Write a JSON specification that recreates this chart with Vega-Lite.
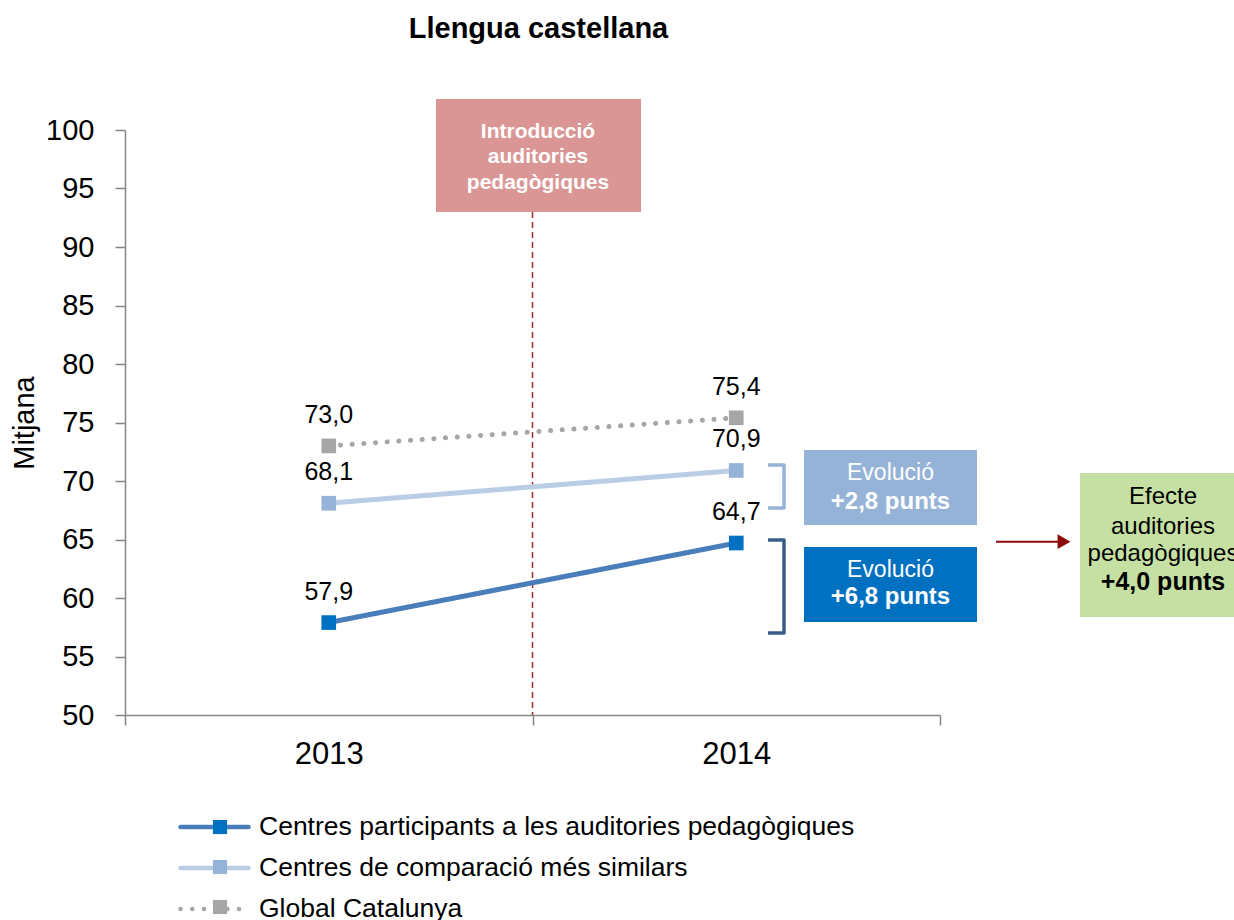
{
  "$schema": "https://vega.github.io/schema/vega-lite/v6.json",
  "width": 815,
  "height": 585,
  "autosize": {"type": "none"},
  "padding": {"left": 125, "top": 130, "right": 294, "bottom": 205},
  "background": "white",
  "config": {
    "view": {"stroke": null},
    "font": "Liberation Sans",
    "locale": {"number": {"decimal": ",", "thousands": ".", "grouping": [3], "currency": ["", " €"]}},
    "axis": {"labelFont": "Liberation Sans", "titleFont": "Liberation Sans", "labelColor": "black", "titleColor": "black", "domainColor": "#868686", "tickColor": "#868686", "grid": false, "domainWidth": 1.5, "tickWidth": 1.5}
  },
  "title": {"text": "Llengua castellana", "fontSize": 29, "fontWeight": "bold", "font": "Liberation Sans", "color": "black", "anchor": "middle", "frame": "group", "dx": 6, "offset": 32, "baseline": "alphabetic"},
  "encoding": {
    "x": {"field": "any", "type": "quantitative", "scale": {"domain": [2012.5, 2014.5], "nice": false, "zero": false},
      "axis": {"values": [2012.5, 2013, 2013.5, 2014, 2014.5], "labelExpr": "datum.value % 1 === 0 ? '' + datum.value : ''",
        "tickOpacity": {"condition": {"test": "datum.value % 1 === 0", "value": 0}, "value": 1},
        "tickSize": 10, "labelFontSize": 31, "labelPadding": 14, "title": null}},
    "y": {"field": "mitjana", "type": "quantitative", "scale": {"domain": [50, 100], "nice": false, "zero": false},
      "axis": {"values": [50, 55, 60, 65, 70, 75, 80, 85, 90, 95, 100], "format": "d", "title": "Mitjana", "titleFontSize": 29, "titleFontWeight": "normal", "titlePadding": 6, "labelFontSize": 29, "labelPadding": 21, "tickSize": 10}}
  },
  "layer": [
    {"data": {"values": [{"any": 2013.5, "mitjana": 92.99, "mitjana2": 50}]},
     "mark": {"type": "rule", "color": "#a32b2b", "strokeDash": [6, 4], "strokeWidth": 1.5},
     "encoding": {"y2": {"field": "mitjana2"}}},
    {"data": {"values": [{"any": 2013.2632, "any2": 2013.7663, "mitjana": 102.65, "mitjana2": 92.991}]},
     "mark": {"type": "rect", "color": "#d99694"},
     "encoding": {"x2": {"field": "any2"}, "y2": {"field": "mitjana2"}}},
    {"data": {"values": [
       {"any": 2013.5135, "mitjana": 99.855, "text": "Introducció"},
       {"any": 2013.5135, "mitjana": 97.718, "text": "auditories"},
       {"any": 2013.5135, "mitjana": 95.444, "text": "pedagògiques"}]},
     "mark": {"type": "text", "color": "white", "fontWeight": "bold", "fontSize": 21, "align": "center", "baseline": "middle"},
     "encoding": {"text": {"field": "text"}}},
    {"data": {"values": [{"any": 2014.1663, "any2": 2014.5908, "mitjana": 72.65, "mitjana2": 66.239}]},
     "mark": {"type": "rect", "color": "#95b3d7"},
     "encoding": {"x2": {"field": "any2"}, "y2": {"field": "mitjana2"}}},
    {"data": {"values": [{"any": 2014.1663, "any2": 2014.5908, "mitjana": 64.359, "mitjana2": 57.949}]},
     "mark": {"type": "rect", "color": "#0070c0"},
     "encoding": {"x2": {"field": "any2"}, "y2": {"field": "mitjana2"}}},
    {"data": {"values": [{"any": 2014.8436, "any2": 2015.2509, "mitjana": 70.684, "mitjana2": 58.376}]},
     "mark": {"type": "rect", "color": "#c6e0a4"},
     "encoding": {"x2": {"field": "any2"}, "y2": {"field": "mitjana2"}}},
    {"data": {"values": [
       {"any": 2014.3785, "mitjana": 70.684, "text": "Evolució"},
       {"any": 2014.3785, "mitjana": 62.393, "text": "Evolució"}]},
     "mark": {"type": "text", "color": "white", "fontSize": 23, "align": "center", "baseline": "middle"},
     "encoding": {"text": {"field": "text"}}},
    {"data": {"values": [
       {"any": 2014.3785, "mitjana": 68.205, "text": "+2,8 punts"},
       {"any": 2014.3785, "mitjana": 60.085, "text": "+6,8 punts"}]},
     "mark": {"type": "text", "color": "white", "fontWeight": "bold", "fontSize": 24, "align": "center", "baseline": "middle"},
     "encoding": {"text": {"field": "text"}}},
    {"data": {"values": [
       {"any": 2015.0472, "mitjana": 68.632, "text": "Efecte"},
       {"any": 2015.0472, "mitjana": 66.068, "text": "auditories"},
       {"any": 2015.0472, "mitjana": 63.761, "text": "pedagògiques"}]},
     "mark": {"type": "text", "color": "black", "fontSize": 24, "align": "center", "baseline": "middle"},
     "encoding": {"text": {"field": "text"}}},
    {"data": {"values": [{"any": 2015.0472, "mitjana": 61.368, "text": "+4,0 punts"}]},
     "mark": {"type": "text", "color": "black", "fontWeight": "bold", "fontSize": 25, "align": "center", "baseline": "middle"},
     "encoding": {"text": {"field": "text"}}},
    {"data": {"values": [
       {"any": 2014.0779, "mitjana": 71.368, "ordre": 1},
       {"any": 2014.1172, "mitjana": 71.368, "ordre": 2},
       {"any": 2014.1172, "mitjana": 67.692, "ordre": 3},
       {"any": 2014.0779, "mitjana": 67.692, "ordre": 4}]},
     "mark": {"type": "line", "color": "#95b3d7", "strokeWidth": 3.5, "strokeJoin": "round"},
     "encoding": {"order": {"field": "ordre", "type": "quantitative"}}},
    {"data": {"values": [
       {"any": 2014.0779, "mitjana": 64.957, "ordre": 1},
       {"any": 2014.1172, "mitjana": 64.957, "ordre": 2},
       {"any": 2014.1172, "mitjana": 57.009, "ordre": 3},
       {"any": 2014.0779, "mitjana": 57.009, "ordre": 4}]},
     "mark": {"type": "line", "color": "#385d8a", "strokeWidth": 3.5, "strokeJoin": "round"},
     "encoding": {"order": {"field": "ordre", "type": "quantitative"}}},
    {"data": {"values": [{"any": 2014.6374, "any2": 2014.7896, "mitjana": 64.812}]},
     "mark": {"type": "rule", "color": "#8b0a0a", "strokeWidth": 2},
     "encoding": {"x2": {"field": "any2"}}},
    {"data": {"values": [{"any": 2014.8043, "mitjana": 64.812}]},
     "mark": {"type": "point", "shape": "triangle-right", "filled": true, "size": 220, "color": "#8b0a0a", "opacity": 1},
     "encoding": {}},
    {"data": {"name": "series", "values": [
       {"serie": "Centres participants a les auditories pedagògiques", "any": 2013, "mitjana": 57.9},
       {"serie": "Centres participants a les auditories pedagògiques", "any": 2014, "mitjana": 64.7},
       {"serie": "Centres de comparació més similars", "any": 2013, "mitjana": 68.1},
       {"serie": "Centres de comparació més similars", "any": 2014, "mitjana": 70.9},
       {"serie": "Global Catalunya", "any": 2013, "mitjana": 73.0},
       {"serie": "Global Catalunya", "any": 2014, "mitjana": 75.4}]},
     "layer": [
       {"mark": {"type": "line", "strokeWidth": 5, "strokeCap": "round"},
        "encoding": {
          "stroke": {"field": "serie", "type": "nominal",
            "scale": {"domain": ["Centres participants a les auditories pedagògiques", "Centres de comparació més similars", "Global Catalunya"], "range": ["#4a7ebb", "#b9cde5", "#a6a6a6"]},
            "legend": {"orient": "none", "legendX": 53, "legendY": 684, "title": null, "symbolType": "stroke", "symbolSize": 4624, "symbolStrokeWidth": 4.5, "labelFontSize": 26.5, "labelFont": "Liberation Sans", "labelColor": "black", "labelOffset": 8, "labelLimit": 1000, "clipHeight": 26, "rowPadding": 14, "padding": 0, "zindex": 0,
              "encode": {"symbols": {"update": {"strokeCap": {"value": "round"}}}}}
          },
          "strokeDash": {"field": "serie", "type": "nominal",
            "scale": {"domain": ["Centres participants a les auditories pedagògiques", "Centres de comparació més similars", "Global Catalunya"], "range": [[1, 0], [1, 0], [0.1, 11.6]]},
            "legend": {"orient": "none", "legendX": 53, "legendY": 684, "title": null, "symbolType": "stroke", "symbolSize": 4624, "symbolStrokeWidth": 4.5, "labelFontSize": 26.5, "labelFont": "Liberation Sans", "labelColor": "black", "labelOffset": 8, "labelLimit": 1000, "clipHeight": 26, "rowPadding": 14, "padding": 0, "zindex": 0,
              "encode": {"symbols": {"update": {"strokeCap": {"value": "round"}}}}}
          }
        }},
       {"mark": {"type": "point", "shape": "square", "filled": true, "size": 215, "opacity": 1, "strokeWidth": 0},
        "encoding": {
          "fill": {"field": "serie", "type": "nominal",
            "scale": {"domain": ["Global Catalunya", "Centres participants a les auditories pedagògiques", "Centres de comparació més similars"], "range": ["#a6a6a6", "#0070c0", "#95b3d7"]},
            "legend": {"orient": "none", "legendX": 82, "legendY": 684, "title": null, "values": ["Centres participants a les auditories pedagògiques", "Centres de comparació més similars", "Global Catalunya"], "symbolType": "square", "symbolSize": 200, "symbolStrokeWidth": 0, "labelExpr": "''", "labelFontSize": 26, "labelFont": "Liberation Sans", "clipHeight": 26, "rowPadding": 14, "padding": 0, "zindex": 1}
          }
        }},
       {"mark": {"type": "text", "fontSize": 25, "color": "black", "align": "center", "baseline": "middle", "dy": -31},
        "encoding": {"text": {"field": "mitjana", "type": "quantitative", "format": ".1f"}}}
     ]}
  ]
}
